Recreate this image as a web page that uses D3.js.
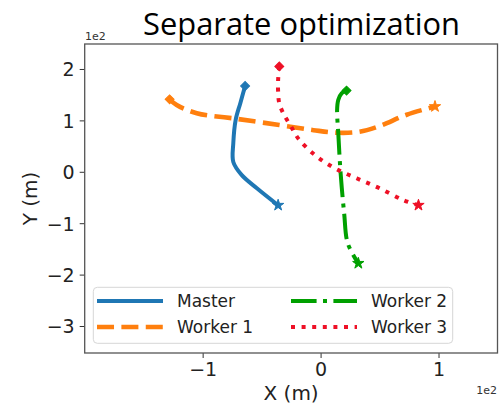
<!DOCTYPE html>
<html>
<head>
<meta charset="utf-8">
<script src="https://cdn.jsdelivr.net/npm/d3@7"></script>
<style>
  body { margin: 0; background: #fff; }
  svg { display: block; }
</style>
</head>
<body>
<div id="chart"></div>
<script>
// trajectories, in metres (axis shows them scaled by 1e2)
const masterX = [-64, -68, -72, -74, -74, -67, -54, -36];
const masterY = [167, 134, 101, 56, 19, -6, -32, -65];
const worker1X = [-128, -122, -105, -71, -35, -6, 14, 33, 50, 73, 97];
const worker1Y = [141, 130, 114, 103, 91, 81, 76, 78, 89, 111, 127];
const worker2X = [22, 18, 15, 14, 15, 17, 20, 23, 32];
const worker2Y = [158, 153, 140, 120, 75, -3, -81, -139, -178];
const worker3X = [-35, -36, -36, -35, -31, -25, -19, -5, 12, 31, 50, 70, 83];
const worker3Y = [205, 179, 156, 133, 111, 88, 65, 33, 7, -13, -32, -55, -65];

const seriesNames = ['Master', 'Worker 1', 'Worker 2', 'Worker 3'];
const xTicks = [-100, 0, 100];
const yTicks = [-300, -200, -100, 0, 100, 200];

const W = 501, H = 404;
const margin = { left: 84.7, right: 3.5, top: 44, bottom: 51 };
const fontFam = '"DejaVu Sans", sans-serif';

const svg = d3.select('#chart').append('svg')
    .attr('width', W)
    .attr('height', H);

const x = d3.scaleLinear().domain([-200, 150]).range([margin.left, W - margin.right]);
const y = d3.scaleLinear().domain([-352.5, 248.6]).range([H - margin.bottom, margin.top]);

const lw = 4;
const styles = [
    { color: '#1f77b4', dash: null, lw: 4 },
    { color: '#ff7f0e', dash: [3.7 * 4.6, 1.6 * 4.6], lw: 4.6 },
    { color: '#00a000', dash: [6.4 * lw, 1.6 * lw, 1 * lw, 1.6 * lw], lw: lw },
    { color: '#ee1026', dash: [1 * lw, 1.65 * lw], lw: lw }
];

const series = [
    d3.zip(masterX, masterY),
    d3.zip(worker1X, worker1Y),
    d3.zip(worker2X, worker2Y),
    d3.zip(worker3X, worker3Y)
];

// title
svg.append('text')
    .attr('x', 143)
    .attr('y', 35)
    .attr('textLength', 317)
    .attr('lengthAdjust', 'spacingAndGlyphs')
    .style('font-family', '"Open Sans", sans-serif')
    .style('font-size', '31px')
    .style('fill', '#000')
    .text('Separate optimization');

const line = d3.line()
    .x(d => x(d[0]))
    .y(d => y(d[1]))
    .curve(d3.curveCatmullRom);

const plot = svg.append('g');

series.forEach(function(pts, i) {
    const st = styles[i];
    plot.append('path')
        .datum(pts)
        .attr('d', line)
        .attr('fill', 'none')
        .attr('stroke', st.color)
        .attr('stroke-width', st.lw)
        .attr('stroke-dasharray', st.dash ? st.dash.join(',') : null)
        .attr('stroke-linejoin', 'round')
        .attr('stroke-linecap', st.dash ? 'butt' : 'square');

    // start marker: diamond, end marker: star
    const s = pts[0], e = pts[pts.length - 1];
    plot.append('path')
        .attr('d', d3.symbol().type(d3.symbolSquare).size(40)())
        .attr('transform', 'translate(' + x(s[0]) + ',' + y(s[1]) + ') rotate(45)')
        .attr('fill', st.color)
        .attr('stroke', st.color)
        .attr('stroke-width', 1);
    plot.append('path')
        .attr('d', d3.symbol().type(d3.symbolStar).size(40)())
        .attr('transform', 'translate(' + x(e[0]) + ',' + y(e[1]) + ')')
        .attr('fill', st.color)
        .attr('stroke', st.color)
        .attr('stroke-width', 1);
});

// axes
const xAxis = d3.axisBottom(x).tickValues(xTicks).tickSize(5).tickPadding(5)
    .tickFormat(d => d3.format('d')(d / 100).replace('-', '\u2212'));
const yAxis = d3.axisLeft(y).tickValues(yTicks).tickSize(5).tickPadding(5)
    .tickFormat(d => d3.format('d')(d / 100).replace('-', '\u2212'));

const gx = svg.append('g')
    .attr('transform', 'translate(0,' + (H - margin.bottom) + ')')
    .call(xAxis);
const gy = svg.append('g')
    .attr('transform', 'translate(' + margin.left + ',0)')
    .call(yAxis);

[gx, gy].forEach(function(g) {
    g.select('.domain').remove();
    g.selectAll('.tick line').attr('stroke', '#333').attr('stroke-width', 1);
    g.selectAll('.tick text')
        .style('font-family', fontFam)
        .style('font-size', '19px')
        .style('fill', '#222');
});
gy.selectAll('.tick text').attr('dy', '0.36em');

// frame
svg.append('rect')
    .attr('x', margin.left)
    .attr('y', margin.top)
    .attr('width', W - margin.right - margin.left)
    .attr('height', H - margin.bottom - margin.top)
    .attr('fill', 'none')
    .attr('stroke', '#555')
    .attr('stroke-width', 1.3);

// offset labels
svg.append('text')
    .attr('x', 85).attr('y', 40)
    .style('font-family', fontFam).style('font-size', '11px').style('fill', '#333')
    .text('1e2');
svg.append('text')
    .attr('x', W - 4).attr('y', 394)
    .attr('text-anchor', 'end')
    .style('font-family', fontFam).style('font-size', '11px').style('fill', '#333')
    .text('1e2');

// axis labels
svg.append('text')
    .attr('x', (margin.left + W - margin.right) / 2)
    .attr('y', 399.5)
    .attr('text-anchor', 'middle')
    .style('font-family', fontFam).style('font-size', '20px').style('fill', '#222')
    .text('X (m)');
svg.append('text')
    .attr('transform', 'translate(37,' + ((margin.top + H - margin.bottom) / 2) + ') rotate(-90)')
    .attr('text-anchor', 'middle')
    .style('font-family', fontFam).style('font-size', '20px').style('fill', '#222')
    .text('Y (m)');

// legend
const legend = svg.append('g');
legend.append('rect')
    .attr('x', 93.3).attr('y', 287.3)
    .attr('width', 359.4).attr('height', 56)
    .attr('rx', 4)
    .attr('fill', 'rgba(255,255,255,0.8)')
    .attr('stroke', '#d6d6d6')
    .attr('stroke-width', 1);

const legendPos = [
    { lx: 97, ly: 301 },
    { lx: 97, ly: 327 },
    { lx: 291, ly: 301 },
    { lx: 291, ly: 327 }
];
seriesNames.forEach(function(name, i) {
    const st = styles[i], p = legendPos[i];
    legend.append('line')
        .attr('x1', p.lx).attr('x2', p.lx + 66)
        .attr('y1', p.ly).attr('y2', p.ly)
        .attr('stroke', st.color)
        .attr('stroke-width', st.lw)
        .attr('stroke-dasharray', st.dash ? st.dash.join(',') : null);
    legend.append('text')
        .attr('x', p.lx + 80).attr('y', p.ly)
        .attr('dy', '0.36em')
        .style('font-family', fontFam).style('font-size', '17px').style('fill', '#222')
        .text(name);
});
</script>
</body>
</html>
